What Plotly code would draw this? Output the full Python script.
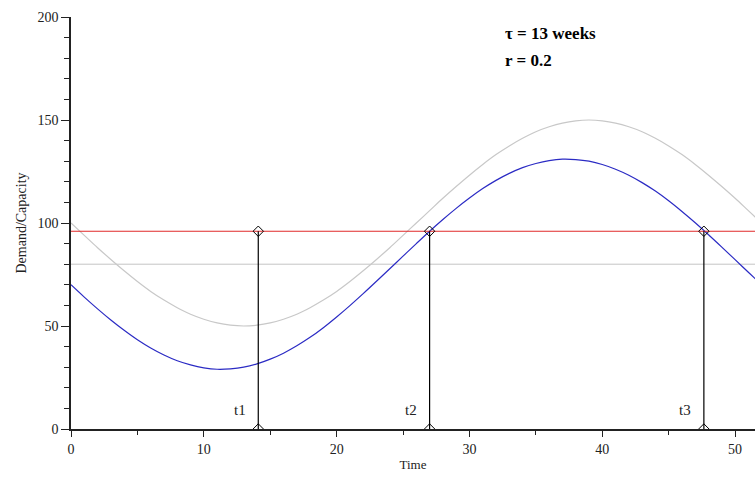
import plotly.graph_objects as go

# Weekly time grid
weeks = list(range(0, 53))

# Demand (light gray sinusoid)
demand = [100.0, 94.0, 88.0, 82.3, 76.8, 71.6, 66.8, 62.6, 58.9, 55.7,
          53.3, 51.5, 50.4, 50.0, 50.4, 51.5, 53.3, 55.7, 58.9, 62.6,
          66.8, 71.6, 76.8, 82.3, 88.0, 94.0, 100.0, 106.0, 112.0, 117.7,
          123.2, 128.4, 133.2, 137.4, 141.1, 144.3, 146.7, 148.5, 149.6, 150.0,
          149.6, 148.5, 146.7, 144.3, 141.1, 137.4, 133.2, 128.4, 123.2, 117.7,
          112.0, 106.0, 100.0]

# Capacity (blue, lagged and damped)
capacity = [70.0, 64.0, 58.3, 52.9, 47.9, 43.3, 39.3, 35.9, 33.1, 31.1,
            29.7, 29.0, 29.2, 30.0, 31.6, 33.9, 36.8, 40.4, 44.5, 49.2,
            54.4, 59.9, 65.7, 71.7, 77.8, 83.9, 90.0, 96.0, 101.7, 107.1,
            112.1, 116.7, 120.7, 124.1, 126.9, 128.9, 130.3, 131.0, 130.8, 130.0,
            128.4, 126.1, 123.2, 119.6, 115.5, 110.8, 105.6, 100.1, 94.3, 88.3,
            82.2, 76.1, 70.0]

threshold = 96      # red level
mean_level = 80     # gray reference level
event_names = ["t1", "t2", "t3"]
event_times = [14.1, 27.0, 47.65]

x_max = 51.5
serif = "Liberation Serif"
ink = "#222222"

fig = go.Figure()

fig.add_trace(go.Scatter(x=[0, x_max], y=[mean_level, mean_level], mode="lines",
                         line=dict(color="#c4c4c4", width=1), hoverinfo="skip"))
fig.add_trace(go.Scatter(x=weeks, y=demand, mode="lines", line_shape="spline",
                         line=dict(color="#c8c8c8", width=1.2)))
fig.add_trace(go.Scatter(x=weeks, y=capacity, mode="lines", line_shape="spline",
                         line=dict(color="#2b2bc4", width=1.2)))
fig.add_trace(go.Scatter(x=[0, x_max], y=[threshold, threshold], mode="lines",
                         line=dict(color="#e02828", width=1.2)))

for name, t in zip(event_names, event_times):
    fig.add_trace(go.Scatter(x=[t, t], y=[0, threshold], mode="lines+markers",
                             line=dict(color="black", width=1.2),
                             marker=dict(symbol="diamond-open", size=8,
                                         color="black", line=dict(width=1))))
    fig.add_annotation(x=t - 0.8, y=9, text=name, showarrow=False,
                       xanchor="right", yanchor="middle",
                       font=dict(family=serif, size=15, color=ink))

fig.add_annotation(x=32.5, y=192, text="<b>\u03c4 = 13 weeks</b>", showarrow=False,
                   xanchor="left", yanchor="middle",
                   font=dict(family=serif, size=17, color="black"))
fig.add_annotation(x=32.5, y=179, text="<b>r = 0.2</b>", showarrow=False,
                   xanchor="left", yanchor="middle",
                   font=dict(family=serif, size=17, color="black"))

fig.update_layout(
    width=755, height=479,
    margin=dict(l=71, r=0, t=17, b=50),
    paper_bgcolor="white", plot_bgcolor="white",
    showlegend=False,
    font=dict(family=serif, size=14, color=ink),
    xaxis=dict(range=[0, x_max], showgrid=False, zeroline=False,
               showline=True, linecolor=ink, linewidth=1.5,
               tickmode="array", tickvals=[0, 10, 20, 30, 40, 50],
               ticks="outside", ticklen=6, tickcolor=ink,
               tickfont=dict(family=serif, size=14, color=ink),
               minor=dict(tickvals=[5, 15, 25, 35, 45], ticks="outside",
                          ticklen=4, tickcolor=ink),
               title=dict(text="Time", font=dict(family=serif, size=13, color=ink),
                          standoff=4)),
    yaxis=dict(range=[0, 200], showgrid=False, zeroline=False,
               showline=True, linecolor=ink, linewidth=1.5,
               tickvals=[0, 50, 100, 150, 200],
               ticks="outside", ticklen=8, tickcolor=ink,
               tickfont=dict(family=serif, size=14, color=ink),
               minor=dict(dtick=10, ticks="outside", ticklen=5, tickcolor=ink),
               title=dict(text="Demand/Capacity", font=dict(family=serif, size=14, color=ink),
                          standoff=8)),
)

fig.write_html("out.html")
